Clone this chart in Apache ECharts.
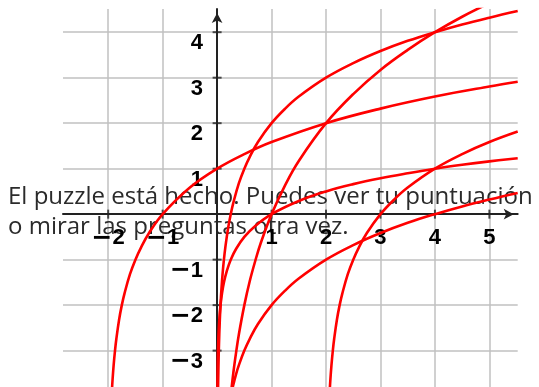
<!DOCTYPE html>
<html><head><meta charset="utf-8">
<script src="https://cdn.jsdelivr.net/npm/echarts@6/dist/echarts.min.js"></script>
<style>html,body{margin:0;padding:0;background:#fff}#c{width:539px;height:387px}</style>
</head><body><div id="c"></div>
<script>
// Tick labels and grid positions
const xTicks = [-2, -1, 1, 2, 3, 4, 5];
const yTicks = [-3, -2, -1, 1, 2, 3, 4];
const xGrid = [-2, -1, 0, 1, 2, 3, 4, 5];
const yGrid = [-3, -2, -1, 0, 1, 2, 3, 4];

// Curves (x, y)
const curveA = [[-1.95,-4.32],[-1.94,-4.06],[-1.93,-3.84],[-1.92,-3.64],[-1.9,-3.32],[-1.875,-3],[-1.85,-2.74],[-1.8,-2.32],[-1.75,-2],[-1.7,-1.74],[-1.6,-1.32],[-1.5,-1],[-1.4,-0.74],[-1.25,-0.415],[-1,0],[-0.5,0.585],[0,1],[0.5,1.32],[1,1.585],[2,2],[3,2.32],[4,2.585],[5,2.807],[5.52,2.911]];
const curveB = [[0.008,-4.97],[0.01,-4.64],[0.015,-4.06],[0.02,-3.64],[0.03,-3.06],[0.04,-2.64],[0.05,-2.32],[0.0625,-2],[0.08,-1.64],[0.1,-1.32],[0.125,-1],[0.15,-0.74],[0.2,-0.32],[0.25,0],[0.3,0.26],[0.4,0.68],[0.5,1],[0.6,1.26],[0.75,1.585],[1,2],[1.25,2.32],[1.5,2.585],[2,3],[2.5,3.32],[3,3.585],[3.5,3.81],[4,4],[4.5,4.17],[5,4.32],[5.52,4.465]];
const curveC = [[0.2,-4.64],[0.25,-4],[0.3,-3.47],[0.35,-3.03],[0.4,-2.64],[0.5,-2],[0.6,-1.47],[0.7,-1.03],[0.8,-0.64],[1,0],[1.25,0.64],[1.5,1.17],[2,2],[2.5,2.64],[3,3.17],[3.5,3.61],[4,4],[4.5,4.34],[5,4.64]];
const curveD = [[0.003,-4.19],[0.005,-3.82],[0.0078,-3.5],[0.0125,-3.16],[0.02,-2.82],[0.03,-2.53],[0.045,-2.24],[0.0625,-2],[0.09,-1.74],[0.125,-1.5],[0.18,-1.24],[0.25,-1],[0.35,-0.76],[0.5,-0.5],[0.7,-0.26],[1,0],[1.5,0.29],[2,0.5],[2.5,0.66],[3,0.79],[3.5,0.9],[4,1],[4.5,1.085],[5,1.16],[5.52,1.23]];
const curveE = [[2.04,-4.64],[2.06,-4.06],[2.08,-3.64],[2.1,-3.32],[2.125,-3],[2.15,-2.74],[2.2,-2.32],[2.25,-2],[2.3,-1.74],[2.4,-1.32],[2.5,-1],[2.6,-0.74],[2.75,-0.415],[3,0],[3.25,0.32],[3.5,0.585],[4,1],[4.5,1.32],[5,1.585],[5.52,1.815]];
const curveF = [[0.22,-4.18],[0.25,-4],[0.3,-3.74],[0.35,-3.51],[0.4,-3.32],[0.5,-3],[0.6,-2.74],[0.75,-2.415],[1,-2],[1.25,-1.68],[1.5,-1.415],[2,-1],[2.5,-0.68],[3,-0.415],[3.5,-0.19],[4,0],[4.5,0.17],[5,0.32],[5.52,0.465]];

const message = ['El puzzle está hecho. Puedes ver tu puntuación', 'o mirar las preguntas otra vez.'];

const fmt = v => v < 0 ? '{m|\u2212}' + String(-v) : String(v);
const labelFont = {
  fontFamily: 'Liberation Sans', fontWeight: 'bold', fontSize: 22, color: '#000', lineHeight: 22,
  rich: {m: {fontFamily: 'DejaVu Sans', fontSize: 25, lineHeight: 22, color: '#000'}}
};

const curveSeries = [curveA, curveB, curveC, curveD, curveE, curveF].map(d => ({
  type: 'line', data: d, showSymbol: false, smooth: 0.4,
  lineStyle: {color: '#ff0000', width: 2.6}, z: 5, clip: true, silent: true
}));

const GRID = {left: 63, right: 21.3, top: 9, bottom: 0};

const chart = echarts.init(document.getElementById('c'), null, {renderer: 'canvas'});
chart.setOption({
  animation: false,
  grid: Object.assign({containLabel: false, outerBoundsMode: 'none'}, GRID),
  xAxis: {
    type: 'value', min: -2.83, max: 5.52, z: 2, position: 'bottom', offset: 0,
    axisLine: {onZero: false, lineStyle: {color: '#222', width: 2}, symbol: ['none', 'arrow'], symbolSize: [8, 10], symbolOffset: [0, -4]},
    axisTick: {show: false}, splitLine: {show: false},
    axisLabel: Object.assign({customValues: xTicks, formatter: fmt, margin: 13, verticalAlign: 'top', align: 'center'}, labelFont)
  },
  yAxis: {
    type: 'value', min: -3.8, max: 4.51, z: 2, position: 'left', offset: 0,
    axisLine: {onZero: false, lineStyle: {color: '#222', width: 2}, symbol: ['none', 'arrow'], symbolSize: [8, 10], symbolOffset: [0, -4]},
    axisTick: {show: false}, splitLine: {show: false},
    axisLabel: Object.assign({customValues: yTicks, formatter: fmt, margin: 14, verticalAlign: 'top', align: 'right'}, labelFont)
  },
  graphic: message.map((t, i) => ({
    type: 'text', left: 8, top: 185 + i * 30, z: 1, silent: true,
    style: {text: t, fontFamily: 'Open Sans', fontSize: 24, fill: '#2b2b2b'}
  })),
  series: [
    {
      type: 'line', data: [], z: 0, silent: true,
      markLine: {
        z: 0, silent: true, symbol: ['none', 'none'], label: {show: false}, animation: false,
        lineStyle: {color: '#c0c0c0', width: 1.5, type: 'solid'},
        data: xGrid.map(v => ({xAxis: v})).concat(yGrid.map(v => ({yAxis: v})))
      }
    },
    {
      type: 'scatter', data: xTicks.map(v => [v, 0]), symbol: 'rect', symbolSize: [2, 9],
      itemStyle: {color: '#222'}, z: 3, silent: true
    },
    {
      type: 'scatter', data: yTicks.map(v => [0, v]), symbol: 'rect', symbolSize: [9, 2],
      itemStyle: {color: '#222'}, z: 3, silent: true
    }
  ].concat(curveSeries)
});

// Move both axes onto the origin, using the chart's own scales
const H = 387;
for (let k = 0; k < 3; k++) {
  const origin = chart.convertToPixel({gridIndex: 0}, [0, 0]);
  chart.setOption({
    xAxis: {offset: -(H - GRID.bottom - origin[1])},
    yAxis: {offset: -(origin[0] - GRID.left)}
  });
}
</script></body></html>
